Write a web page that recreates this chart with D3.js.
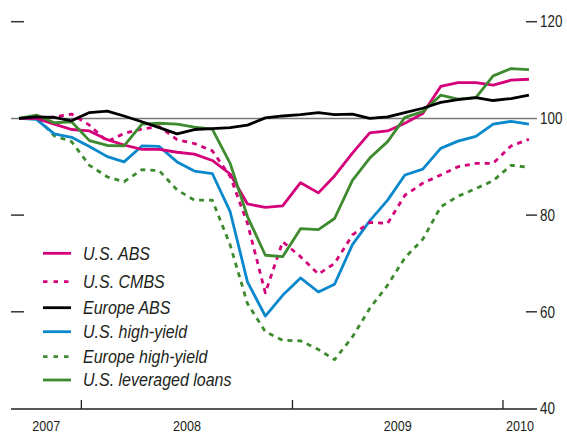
<!DOCTYPE html>
<html>
<head>
<meta charset="utf-8">
<script src="https://cdn.jsdelivr.net/npm/d3@7"></script>
<style>
  html, body { margin: 0; padding: 0; background: #fff; }
  svg { display: block; }
  text { font-family: "Liberation Sans", Arial, sans-serif; fill: #231f20; }
</style>
</head>
<body>
<svg id="chart" width="567" height="433"></svg>
<script>
// Monthly observations, Sep 2007 – Feb 2010 (index = 100 at start)
const months = d3.range(30).map(i => new Date(2007, 8 + i, 15));

const usABS     = [100, 100, 98.8, 97.7, 97.4, 95.6, 94.5, 93.6, 93.6, 93.0, 92.6, 91.3, 88.5, 82.3, 81.6, 81.9, 86.7, 84.6, 88.1, 92.8, 97.0, 97.4, 99.0, 101.0, 106.6, 107.4, 107.4, 106.9, 107.9, 108.1];
const usCMBS    = [100, 100, 100.3, 100.9, 98.6, 95.2, 96.9, 97.8, 98.3, 95.6, 94.8, 93.3, 88.0, 78.3, 63.9, 74.5, 71.4, 67.8, 70.0, 75.9, 78.5, 78.3, 84.1, 86.6, 88.3, 90.0, 90.7, 90.7, 94.3, 95.7];
const europeABS = [100, 100.3, 100.2, 99.5, 101.2, 101.5, 100.5, 99.3, 98.1, 96.8, 97.7, 97.9, 98.1, 98.6, 100.1, 100.5, 100.8, 101.2, 100.8, 100.9, 100.0, 100.3, 101.2, 102.1, 103.3, 103.9, 104.3, 103.7, 104.1, 104.8];
const usHY      = [100, 99.8, 96.8, 96.1, 94.2, 92.1, 91.0, 94.3, 94.2, 91.0, 89.1, 88.6, 80.7, 66.2, 59.1, 63.4, 67.0, 64.1, 65.7, 73.9, 78.8, 83.1, 88.3, 89.5, 93.8, 95.3, 96.3, 98.8, 99.4, 98.8];
const europeHY  = [100, 100.3, 96.4, 95.2, 90.3, 87.9, 86.9, 89.4, 89.2, 85.2, 83.1, 83.1, 73.8, 61.7, 55.9, 54.1, 54.0, 52.2, 50.1, 54.8, 60.7, 65.5, 71.2, 75.0, 81.7, 83.9, 85.5, 87.1, 90.3, 89.9];
const usLL      = [100, 100.7, 99.1, 99.3, 95.4, 94.4, 94.3, 98.8, 99.0, 98.8, 98.2, 97.8, 90.7, 79.7, 71.7, 71.4, 77.2, 77.0, 79.3, 87.2, 91.8, 95.2, 100.2, 101.4, 104.8, 104.0, 104.3, 108.8, 110.3, 110.1];

const seriesNames  = ["U.S. ABS", "U.S. CMBS", "Europe ABS", "U.S. high-yield", "Europe high-yield", "U.S. leveraged loans"];
const seriesValues = [usABS, usCMBS, europeABS, usHY, europeHY, usLL];
const seriesColors = ["#d4007a", "#d4007a", "#000000", "#0a88cc", "#3d8a2f", "#3d8a2f"];
const seriesDashed = [false, true, false, false, true, false];

const yTicks = [40, 60, 80, 100, 120];
const sideTicks = [60, 80, 120];
const yearTicks = [new Date(2008, 0, 1), new Date(2009, 0, 1), new Date(2010, 0, 1)];
const yearLabels = ["2007", "2008", "2009", "2010"];

const svg = d3.select("#chart");
const x = d3.scaleTime().domain([new Date(2007, 8, 1), new Date(2010, 2, 1)]).range([11, 537]);
const y = d3.scaleLinear().domain([40, 120]).range([408.5, 21.7]);

// condensed text helper (horizontal squeeze of a regular face)
function ctext(sel, tx, ty, sx) {
  return sel.attr("transform", `translate(${tx},${ty}) scale(${sx},1)`);
}

// reference line at 100
svg.append("line")
  .attr("x1", x.range()[0]).attr("x2", x.range()[1])
  .attr("y1", y(100)).attr("y2", y(100))
  .attr("stroke", "#7a7a7a").attr("stroke-width", 1.5);

// left and right short ticks
svg.selectAll("line.lt").data(sideTicks).join("line")
  .attr("x1", 11).attr("x2", 24)
  .attr("y1", d => y(d)).attr("y2", d => y(d))
  .attr("stroke", "#333").attr("stroke-width", 1.5);
svg.selectAll("line.rt").data(sideTicks).join("line")
  .attr("x1", 526).attr("x2", 537)
  .attr("y1", d => y(d)).attr("y2", d => y(d))
  .attr("stroke", "#333").attr("stroke-width", 1.5);

// right labels
svg.selectAll("text.ry").data(yTicks).join("text")
  .each(function(d) { ctext(d3.select(this), 540, y(d), 0.84); })
  .attr("dy", "0.36em")
  .attr("font-size", 16)
  .text(d => d);

// bottom axis
svg.append("line")
  .attr("x1", 11).attr("x2", 537).attr("y1", 409).attr("y2", 409)
  .attr("stroke", "#231f20").attr("stroke-width", 1.3);
svg.selectAll("line.yt").data(yearTicks).join("line")
  .attr("x1", d => x(d)).attr("x2", d => x(d))
  .attr("y1", 409).attr("y2", 400)
  .attr("stroke", "#231f20").attr("stroke-width", 1.3);

const bounds = [x.domain()[0], ...yearTicks, x.domain()[1]];
svg.selectAll("text.yl").data(yearLabels).join("text")
  .each(function(d, i) { ctext(d3.select(this), (x(bounds[i]) + x(bounds[i + 1])) / 2, 431, 0.84); })
  .attr("text-anchor", "middle")
  .attr("font-size", 15)
  .text(d => d);

// lines
const line = d3.line().x((d, i) => x(months[i])).y(d => y(d));
const order = [4, 3, 1, 0, 5, 2];
order.forEach(k => {
  svg.append("path")
    .attr("d", line(seriesValues[k]))
    .attr("fill", "none")
    .attr("stroke", seriesColors[k])
    .attr("stroke-width", 2.8)
    .attr("stroke-linejoin", "round")
    .attr("stroke-dasharray", seriesDashed[k] ? "5,5" : null);
});

// legend
const legendY = [253.3, 281.7, 307.7, 331.7, 356.7, 380];
const lg = svg.append("g");
seriesNames.forEach((name, k) => {
  lg.append("line")
    .attr("x1", 43).attr("x2", 71)
    .attr("y1", legendY[k]).attr("y2", legendY[k])
    .attr("stroke", seriesColors[k]).attr("stroke-width", 2.8)
    .attr("stroke-dasharray", seriesDashed[k] ? "4.5,6" : null);
  ctext(lg.append("text"), 83, legendY[k], 0.89)
    .attr("dy", "0.36em")
    .attr("font-size", 18).attr("font-style", "italic")
    .text(name);
});
</script>
</body>
</html>
